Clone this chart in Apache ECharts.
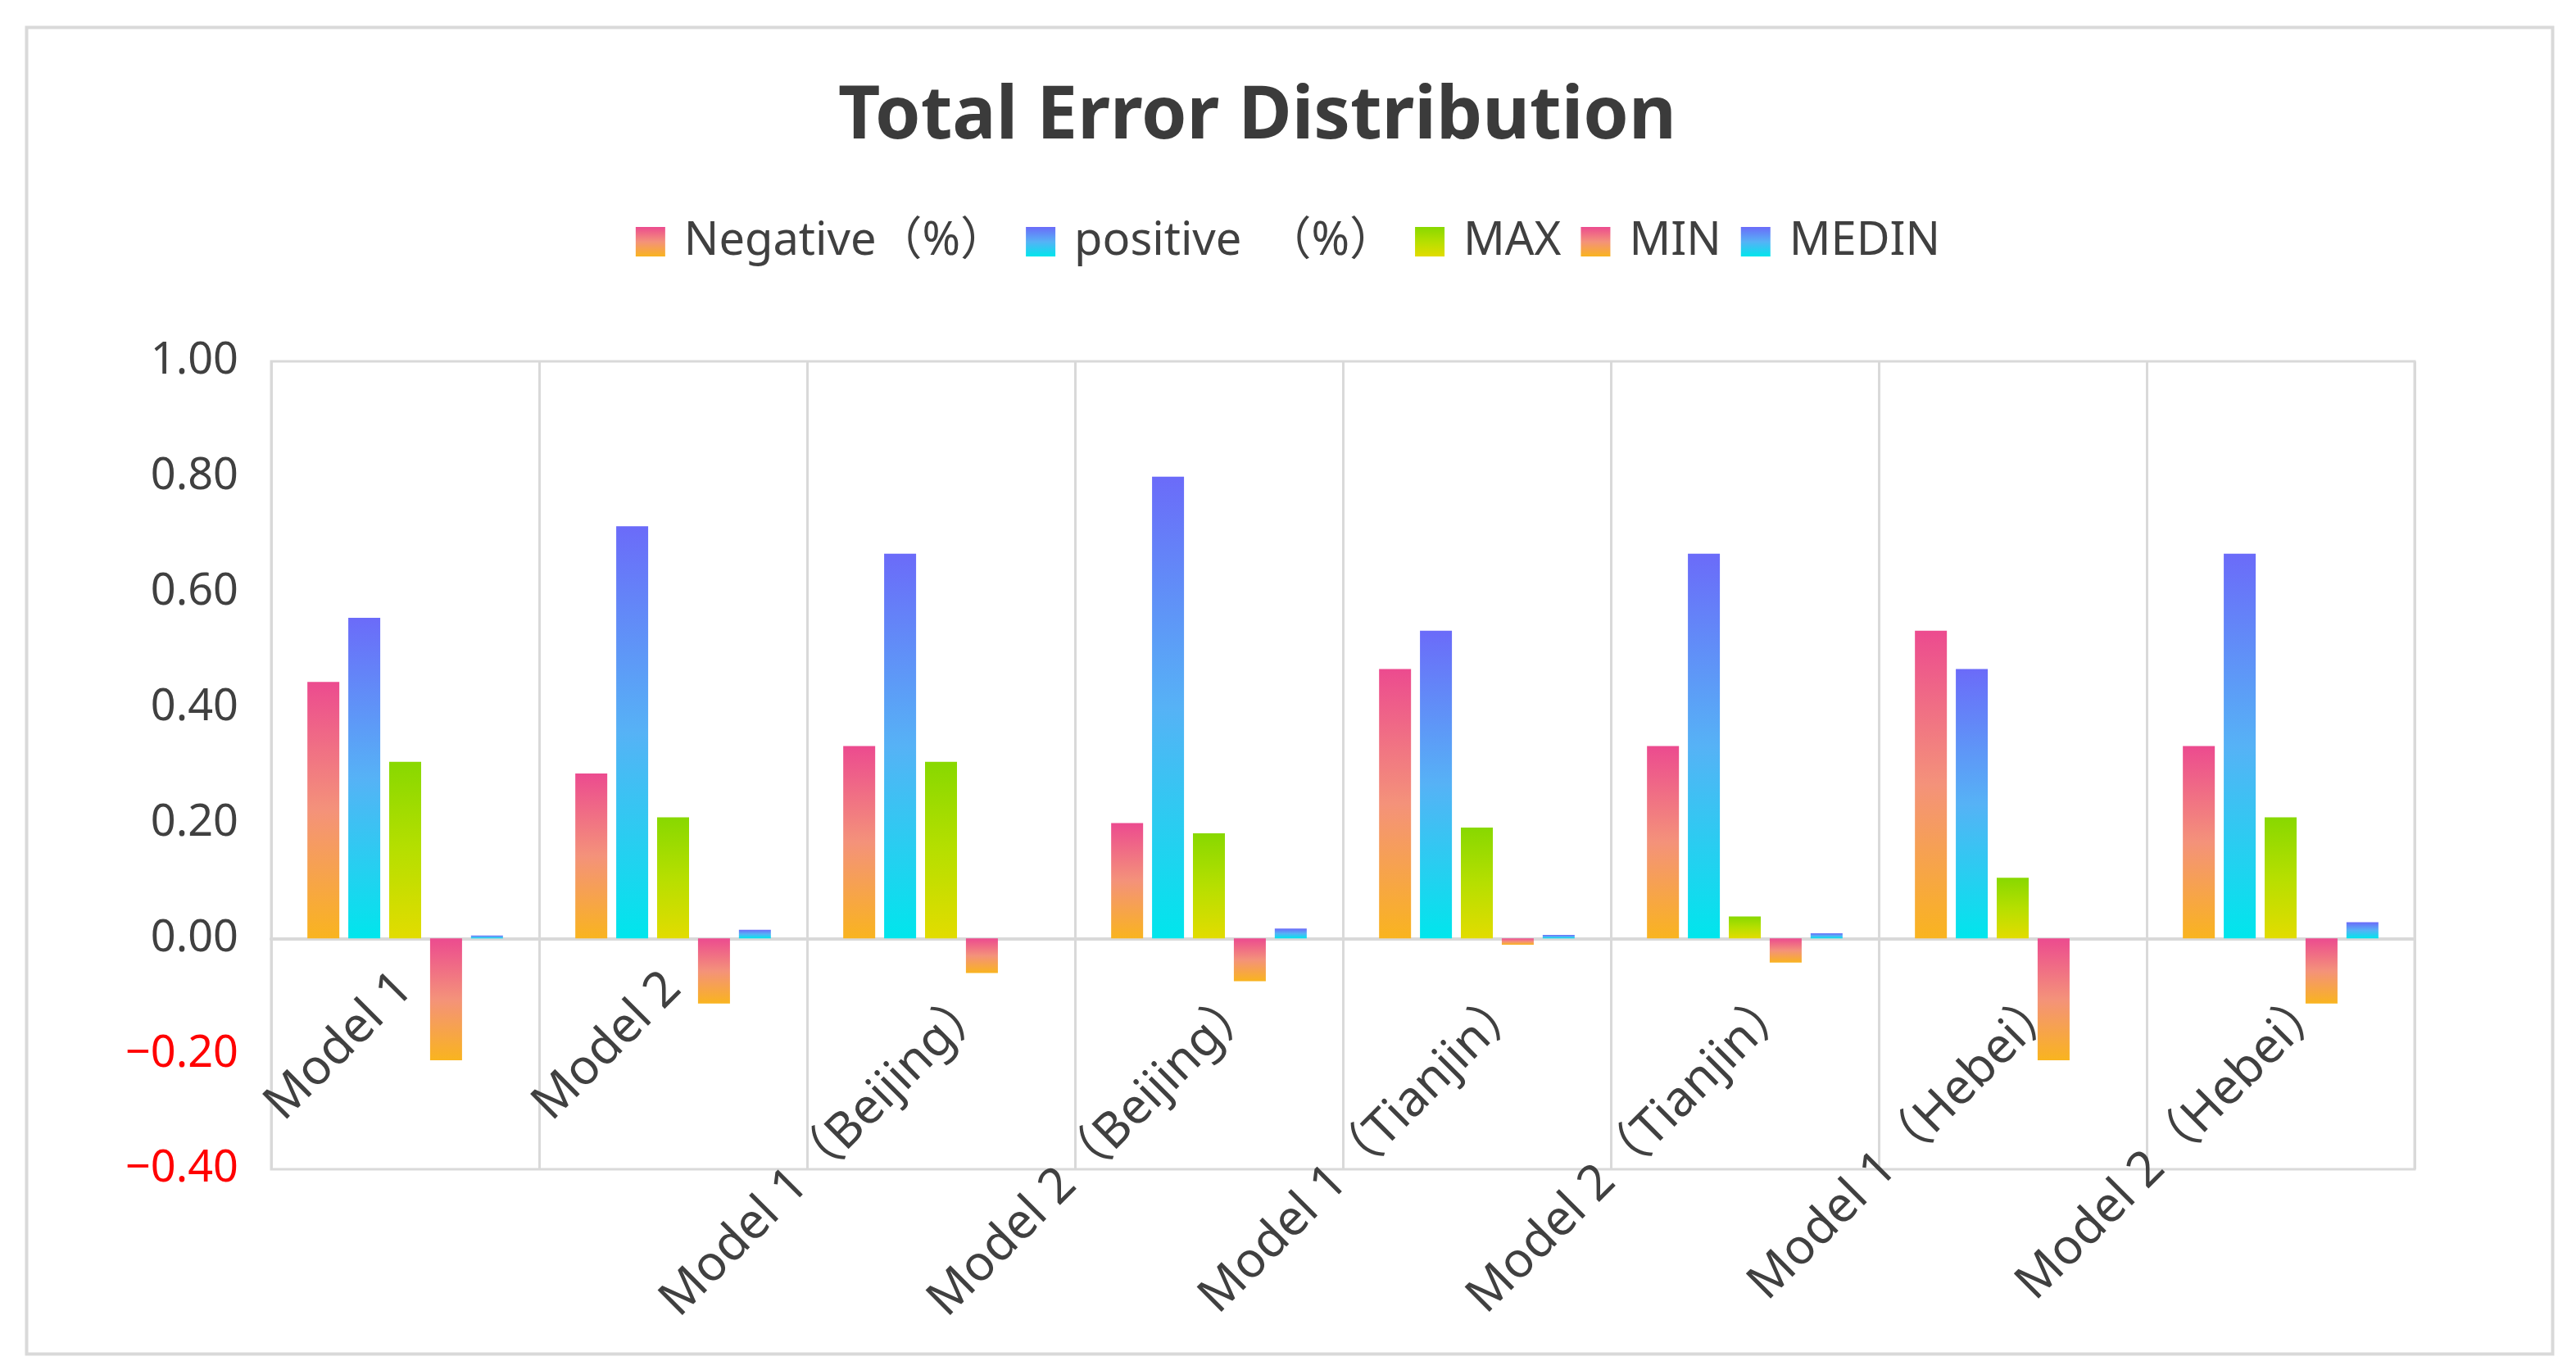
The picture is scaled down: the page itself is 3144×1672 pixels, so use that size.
<!DOCTYPE html>
<html>
<head>
<meta charset="utf-8">
<script src="https://cdn.jsdelivr.net/npm/echarts@6/dist/echarts.min.js"></script>
<style>
html,body{margin:0;padding:0;background:#fff;}
#chart{width:3144px;height:1672px;}
</style>
</head>
<body>
<div id="chart"></div>
<script>
const categories = ['Model 1', 'Model 2', 'Model 1（Beijing）', 'Model 2（Beijing）', 'Model 1（Tianjin）', 'Model 2（Tianjin）', 'Model 1（Hebei）', 'Model 2（Hebei）'];
const seriesNames = ['Negative（%）', 'positive  （%）', 'MAX', 'MIN', 'MEDIN'];
const negativePct = [0.4444, 0.2857, 0.3333, 0.2000, 0.4667, 0.3333, 0.5333, 0.3333];
const positivePct = [0.5556, 0.7143, 0.6667, 0.8000, 0.5333, 0.6667, 0.4667, 0.6667];
const maxVals     = [0.306, 0.210, 0.306, 0.182, 0.192, 0.038, 0.105, 0.210];
const minVals     = [-0.211, -0.113, -0.060, -0.074, -0.011, -0.042, -0.211, -0.113];
const medinVals   = [0.005, 0.015, 0.000, 0.017, 0.006, 0.009, 0.000, 0.028];
const yTicks = { min: -0.4, max: 1.0, interval: 0.2 };

const FONT = "'Noto Sans', 'Noto Sans CJK SC', sans-serif";
function grad(stops) {
  return new echarts.graphic.LinearGradient(0, 0, 0, 1, stops.map((c, i) => ({ offset: i / (stops.length - 1), color: c })));
}
const pinkOrange = () => grad(['#ec4b8f', '#f4927a', '#f9b41f']);
const blueCyan = () => grad(['#6b6bf9', '#56b2f6', '#00e6ec']);
const greenYellow = () => grad(['#88d800', '#b6df00', '#e2dc00']);
const fills = [pinkOrange(), blueCyan(), greenYellow(), pinkOrange(), blueCyan()];
const dataSets = [negativePct, positivePct, maxVals, minVals, medinVals];

const isLong = s => s.indexOf('（') >= 0;
const labelBase = { interval: 0, rotate: 45, fontFamily: FONT, fontSize: 60, color: '#404040' };

const chart = echarts.init(document.getElementById('chart'), null, { renderer: 'canvas' });
chart.setOption({
  backgroundColor: '#ffffff',
  animation: false,
  graphic: [{
    type: 'rect', left: 30, top: 31, shape: { x: 0, y: 0, width: 3083, height: 1619 },
    style: { fill: 'none', stroke: '#d9d9d9', lineWidth: 4 }, silent: true
  }],
  title: {
    text: 'Total Error Distribution', left: 1018, top: 94,
    textStyle: { fontFamily: FONT, fontSize: 89, fontWeight: 'bold', color: '#3b3b3b' }
  },
  legend: {
    top: 262, left: 'center', itemWidth: 36, itemHeight: 36, itemGap: 24,
    icon: 'rect',
    textStyle: { fontFamily: FONT, fontSize: 56, color: '#404040', padding: [0, 0, 0, 18] },
    data: seriesNames
  },
  grid: [{
    left: 331, right: 197, top: 441, bottom: 245, show: true,
    borderColor: '#d9d9d9', borderWidth: 3, containLabel: false, outerBoundsMode: 'none'
  }, {
    // label-only copy of the plot, nudged right, for the long region labels
    left: 381, right: 147, top: 441, bottom: 245, show: false,
    containLabel: false, outerBoundsMode: 'none'
  }],
  xAxis: [{
    type: 'category', data: categories, gridIndex: 0,
    axisLine: { onZero: true, lineStyle: { color: '#d9d9d9', width: 4 } },
    axisTick: { show: false },
    splitLine: { show: true, interval: 0, lineStyle: { color: '#d9d9d9', width: 3 } },
    axisLabel: Object.assign({}, labelBase, { margin: -230, formatter: v => (isLong(v) ? '' : v) })
  }, {
    type: 'category', data: categories, gridIndex: 1,
    axisLine: { show: false, onZero: true }, axisTick: { show: false }, splitLine: { show: false },
    axisLabel: Object.assign({}, labelBase, { margin: -212, formatter: v => (isLong(v) ? v : '') })
  }],
  yAxis: [{
    type: 'value', gridIndex: 0, min: yTicks.min, max: yTicks.max, interval: yTicks.interval,
    axisLine: { show: false }, axisTick: { show: false }, splitLine: { show: false },
    axisLabel: {
      margin: 40, fontFamily: FONT, fontSize: 54,
      formatter: v => (v < 0 ? '−' : '') + Math.abs(v).toFixed(2),
      color: v => (v < 0 ? '#ff0000' : '#404040')
    }
  }, {
    type: 'value', gridIndex: 1, min: yTicks.min, max: yTicks.max, interval: yTicks.interval,
    show: false
  }],
  series: seriesNames.map((name, i) => ({
    name, type: 'bar', data: dataSets[i], barWidth: 39, barGap: '28%',
    xAxisIndex: 0, yAxisIndex: 0,
    itemStyle: { color: fills[i] }
  }))
});
</script>
</body>
</html>
